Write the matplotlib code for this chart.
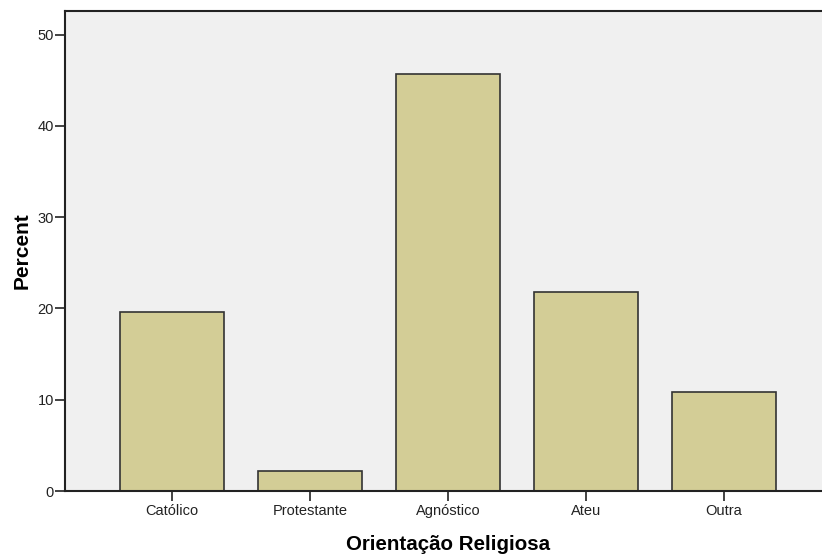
import matplotlib
matplotlib.use('Agg')
import matplotlib.pyplot as plt

categories = ['Católico', 'Protestante', 'Agnóstico', 'Ateu', 'Outra']
percent = [19.6, 2.2, 45.7, 21.8, 10.9]
yticks = [0, 10, 20, 30, 40, 50]

plt.rcParams['font.family'] = ['Liberation Sans', 'DejaVu Sans']

fig = plt.figure(figsize=(8.22, 5.54), dpi=100)
ax = fig.add_axes([0.0791, 0.1137, 0.9209, 0.8665])
ax.set_facecolor('#F0F0F0')

x = list(range(len(categories)))
ax.bar(x, percent, width=0.754, color='#D3CD96', edgecolor='#333333', linewidth=1.2, zorder=2)

ax.set_xlim(-0.775, 4.71)
ax.set_ylim(0, 52.6)
ax.set_xticks(x)
ax.set_xticklabels(categories, fontsize=10.5)
ax.set_yticks(yticks)
ax.set_yticklabels([str(t) for t in yticks], fontsize=10.5)
ax.tick_params(axis='both', direction='out', length=7.5, width=1.2, colors='#222222')
ax.tick_params(axis='x', pad=2)
ax.tick_params(axis='y', pad=0.5)

for side in ['left', 'bottom', 'top']:
    ax.spines[side].set_linewidth(1.5)
    ax.spines[side].set_color('#222222')
ax.spines['right'].set_visible(False)

# axis titles, placed by their baselines
ax.set_xlabel('Orientação Religiosa', fontsize=14.8, fontweight='bold', va='baseline')
ax.xaxis.set_label_coords(0.506, -0.1229)
ax.set_ylabel('Percent', fontsize=15, fontweight='bold', va='baseline')
ax.yaxis.set_label_coords(-0.0489, 0.5)

fig.savefig('out.png', dpi=100, facecolor='white')
